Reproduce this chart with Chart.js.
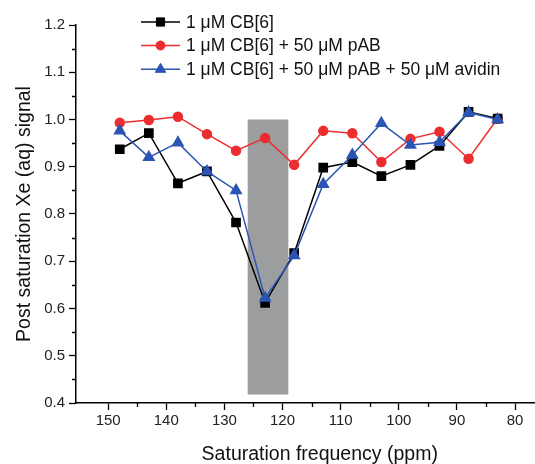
<!DOCTYPE html>
<html><head><meta charset="utf-8">
<script src="https://cdn.jsdelivr.net/npm/chart.js@4/dist/chart.umd.min.js"></script>
<style>
html,body{margin:0;padding:0;overflow:hidden;background:#fff;width:535px;height:464px}
#wrap{width:571px;height:464px}
canvas{display:block}
</style>
</head><body><div id="wrap"><canvas id="c" width="571" height="464"></canvas></div>
<script>
// ---- data ----
const frequencies = [148, 143, 138, 133, 128, 123, 118, 113, 108, 103, 98, 93, 88, 83];
const cb6 = [0.937, 0.971, 0.865, 0.890, 0.782, 0.612, 0.717, 0.898, 0.910, 0.880, 0.904, 0.944, 1.016, 1.002];
const cb6pAB = [0.993, 0.999, 1.006, 0.969, 0.934, 0.961, 0.904, 0.976, 0.971, 0.910, 0.959, 0.974, 0.917, 1.002];
const cb6pABavidin = [0.976, 0.920, 0.951, 0.890, 0.850, 0.622, 0.712, 0.863, 0.925, 0.992, 0.946, 0.952, 1.015, 1.000];
const seriesLabels = ['1 \u03BCM CB[6]', '1 \u03BCM CB[6] + 50 \u03BCM pAB', '1 \u03BCM CB[6] + 50 \u03BCM pAB + 50 \u03BCM avidin'];
const xTicks = [150, 140, 130, 120, 110, 100, 90, 80];
const xMinorTicks = [145, 135, 125, 115, 105, 95, 85];
const yTicks = [0.4, 0.5, 0.6, 0.7, 0.8, 0.9, 1.0, 1.1, 1.2];
const yMinorTicks = [0.45, 0.55, 0.65, 0.75, 0.85, 0.95, 1.05, 1.15];
const bandPpm = [126, 119];
const bandSignal = [0.418, 1.0];

const FONT = "'Liberation Sans', Arial, sans-serif";
const pts = arr => frequencies.map((f, i) => ({x: f, y: arr[i]}));

const bandPlugin = {
  id: 'band',
  beforeDatasetsDraw(chart) {
    const {ctx, scales: {x, y}} = chart;
    const x1 = x.getPixelForValue(bandPpm[0]), x2 = x.getPixelForValue(bandPpm[1]);
    const y1 = y.getPixelForValue(bandSignal[1]), y2 = y.getPixelForValue(bandSignal[0]);
    ctx.save();
    ctx.fillStyle = '#9b9d9f';
    ctx.fillRect(Math.min(x1, x2), y1, Math.abs(x2 - x1), y2 - y1);
    ctx.restore();
  }
};

const minorTickPlugin = {
  id: 'minorTicks',
  afterDraw(chart) {
    const {ctx, scales: {x, y}, chartArea} = chart;
    ctx.save();
    ctx.strokeStyle = '#000';
    ctx.lineWidth = 1.3;
    ctx.beginPath();
    xMinorTicks.forEach(v => {
      const px = Math.round(x.getPixelForValue(v)) + 0.5;
      ctx.moveTo(px, chartArea.bottom);
      ctx.lineTo(px, chartArea.bottom + 4);
    });
    yMinorTicks.forEach(v => {
      const py = Math.round(y.getPixelForValue(v)) + 0.5;
      ctx.moveTo(chartArea.left, py);
      ctx.lineTo(chartArea.left - 4, py);
    });
    ctx.stroke();
    ctx.restore();
  }
};

function marker(ctx, style, r, cx, cy) {
  if (Chart.helpers && Chart.helpers.drawPoint) {
    Chart.helpers.drawPoint(ctx, {pointStyle: style, radius: r, rotation: 0, borderWidth: 1}, cx, cy);
    return;
  }
  ctx.beginPath();
  if (style === 'circle') ctx.arc(cx, cy, r, 0, Math.PI * 2);
  else if (style === 'rect') { const s = r * Math.SQRT1_2; ctx.rect(cx - s, cy - s, 2 * s, 2 * s); }
  else { ctx.moveTo(cx, cy - r); ctx.lineTo(cx + r * 0.866, cy + r / 2); ctx.lineTo(cx - r * 0.866, cy + r / 2); ctx.closePath(); }
  ctx.fill(); ctx.stroke();
}

const legendPlugin = {
  id: 'customLegend',
  afterDraw(chart) {
    const {ctx} = chart;
    const rows = [22, 45.5, 69.3];
    ctx.save();
    chart.data.datasets.forEach((ds, i) => {
      const yy = rows[i];
      ctx.strokeStyle = ds.borderColor;
      ctx.lineWidth = 1.5;
      ctx.beginPath();
      ctx.moveTo(141, yy); ctx.lineTo(180, yy);
      ctx.stroke();
      ctx.fillStyle = ds.pointBackgroundColor;
      ctx.strokeStyle = ds.pointBackgroundColor;
      ctx.lineWidth = 1;
      marker(ctx, ds.pointStyle, ds.pointRadius, 160.5, yy);
      ctx.fillStyle = '#111';
      ctx.font = '17.5px ' + FONT;
      ctx.textAlign = 'left';
      ctx.textBaseline = 'middle';
      ctx.fillText(ds.label, 186, yy + 1);
    });
    ctx.restore();
  }
};

const black = '#000000', red = '#ec2d2f', blue = '#2b55b4';

new Chart(document.getElementById('c'), {
  type: 'line',
  data: {
    datasets: [
      {label: seriesLabels[0], data: pts(cb6), borderColor: black, backgroundColor: black,
       pointBackgroundColor: black, pointBorderColor: black, pointStyle: 'rect', pointRadius: 5.8,
       borderWidth: 1.5, order: 1, tension: 0},
      {label: seriesLabels[1], data: pts(cb6pAB), borderColor: red, backgroundColor: red,
       pointBackgroundColor: red, pointBorderColor: red, pointStyle: 'circle', pointRadius: 4.5,
       borderWidth: 1.5, order: 2, tension: 0},
      {label: seriesLabels[2], data: pts(cb6pABavidin), borderColor: blue, backgroundColor: blue,
       pointBackgroundColor: blue, pointBorderColor: blue, pointStyle: 'triangle', pointRadius: 6,
       borderWidth: 1.5, order: 0, tension: 0}
    ]
  },
  options: {
    responsive: false,
    animation: false,
    devicePixelRatio: 1,
    layout: {padding: {top: 25, right: 1, left: 0, bottom: 0}},
    plugins: {legend: {display: false}, tooltip: {enabled: false}},
    scales: {
      x: {
        type: 'linear', reverse: true, min: 71.67, max: 155.53,
        afterBuildTicks: s => { s.ticks = xTicks.map(v => ({value: v})); },
        afterFit: s => { s.height = 61; },
        grid: {display: true, drawOnChartArea: false, drawTicks: true, tickLength: 7, color: '#000', tickWidth: 1.3},
        border: {display: true, color: '#000', width: 1.5},
        ticks: {font: {family: FONT, size: 15}, color: '#222', padding: 2, maxRotation: 0, autoSkip: false,
                callback: v => String(v)},
        title: {display: true, text: 'Saturation frequency (ppm)', font: {family: FONT, size: 19.5}, color: '#111',
                padding: {top: 0, bottom: -2}}
      },
      y: {
        type: 'linear', min: 0.4, max: 1.2,
        afterBuildTicks: s => { s.ticks = yTicks.map(v => ({value: v})); },
        afterFit: s => { s.width = 76; },
        grid: {display: true, drawOnChartArea: false, drawTicks: true, tickLength: 7, color: '#000', tickWidth: 1.3},
        border: {display: true, color: '#000', width: 1.5},
        ticks: {font: {family: FONT, size: 15}, color: '#222', padding: 4, autoSkip: false,
                callback: v => Number(v).toFixed(1)},
        title: {display: true, text: 'Post saturation Xe (aq) signal', font: {family: FONT, size: 19.5}, color: '#111',
                padding: {top: 13, bottom: 0}}
      }
    }
  },
  plugins: [bandPlugin, minorTickPlugin, legendPlugin]
});
</script>
</body></html>
